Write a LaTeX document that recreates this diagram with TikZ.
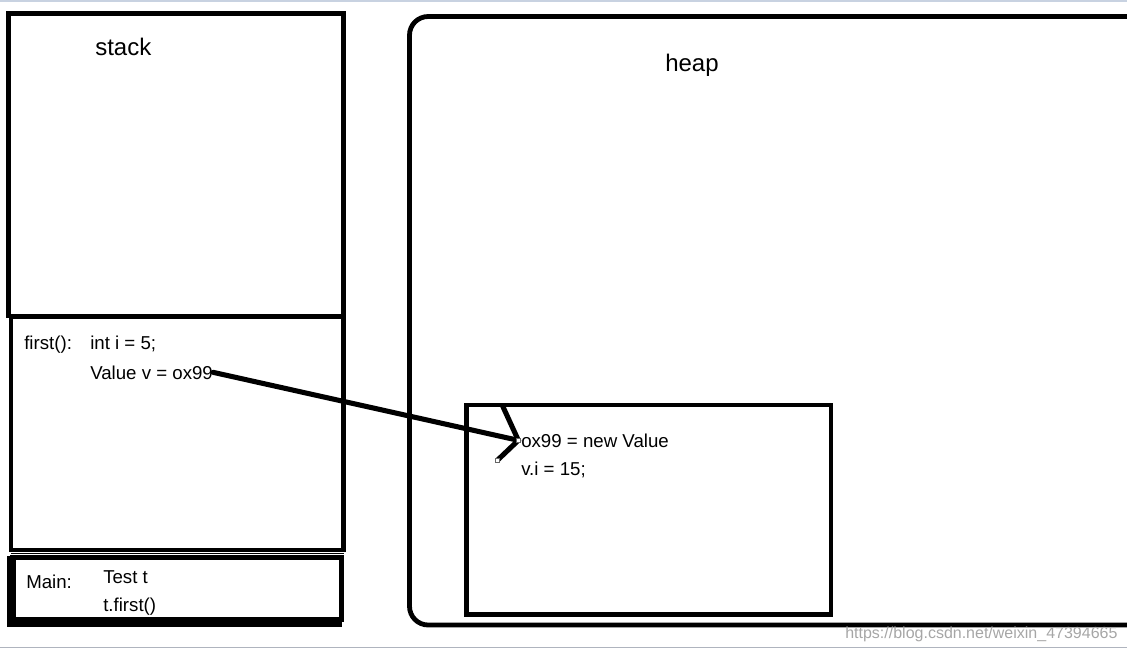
\documentclass[tikz,border=0pt]{standalone}
\usepackage{fontspec}
\setmainfont{Liberation Sans}
\usepackage{tikz}
\usetikzlibrary{arrows.meta}

\begin{document}
\begin{tikzpicture}[
      x=0.75pt, y=-0.75pt, % one unit is one pixel, y runs downward
      frame/.style={draw=black, line width=3.3pt},
      code/.style={anchor=base west, inner sep=0pt, font=\fontsize{14}{16}\selectfont},
      title/.style={anchor=base west, inner sep=0pt, font=\fontsize{18}{22}\selectfont},
      handle/.style={draw=black!60, fill=white, line width=0.6pt, minimum size=3.5pt, inner sep=0pt},
      pointer/.style={line width=3.8pt, draw=black, line cap=round}
  ]
      \useasboundingbox (0,0) rectangle (1127,650);
      \clip (0,0) rectangle (1127,650);

      % Window edges
      \draw[color={rgb,255:red,200;green,210;blue,225}, line width=1.2pt] (0,1) -- (1127,1);
      \draw[color={rgb,255:red,175;green,180;blue,190}, line width=1pt] (0,647.5) -- (1127,647.5);

      % Stack
      \draw[frame] (8.5,13.5) rectangle (343.5,316);
      \draw[frame] (11,317) rectangle (343.5,550);
      \draw[line width=1.2pt] (11,553.5) -- (343.5,553.5);
      \draw[frame] (12,557.5) rectangle (341.5,620);
      \draw[line width=7pt] (11.5,556) -- (11.5,622) -- (341.5,622);

      % Heap
      \draw[frame, line width=3.6pt, rounded corners=14pt] (409.5,16.5) rectangle (1160,625);
      \draw[frame] (466.5,405) rectangle (831,614.5);

      % Texts
      \node (stacktitle) [title] at (95,55) {stack};
      \node (heaptitle) [title] at (665,71) {heap};
      \node (firstlbl) [code] at (24,349) {first():};
      \node (intline) [code] at (90,349) {int i = 5;};
      \node (valline) [code] at (90,379) {Value v = ox99};
      \node (mainlbl) [code] at (26,588) {Main:};
      \node (testline) [code] at (103,583) {Test t};
      \node (callline) [code] at (103,611) {t.first()};
      \node (newline) [code] at (521,447) {ox99 = new Value};
      \node (assignline) [code] at (521,475) {v.i = 15;};
      \node (mark) [anchor=base west, inner sep=0pt, text=black!35,
            font=\fontsize{12}{14}\selectfont] at (845,638) {https://blog.csdn.net/weixin\_47394665};

      % Pointer from v to the object
      \coordinate (tip) at ([xshift=-2]newline.west);
      \draw[pointer] (valline.east) -- (tip);
      \draw[pointer, line cap=butt] ([shift={(-16,-35)}]tip) -- (tip) -- ([shift={(-21,20)}]tip);
      \node (handleA) [handle] at (tip) {};
      \node (handleB) [handle] at ([shift={(-21,20)}]tip) {};
  \end{tikzpicture}
\end{document}
